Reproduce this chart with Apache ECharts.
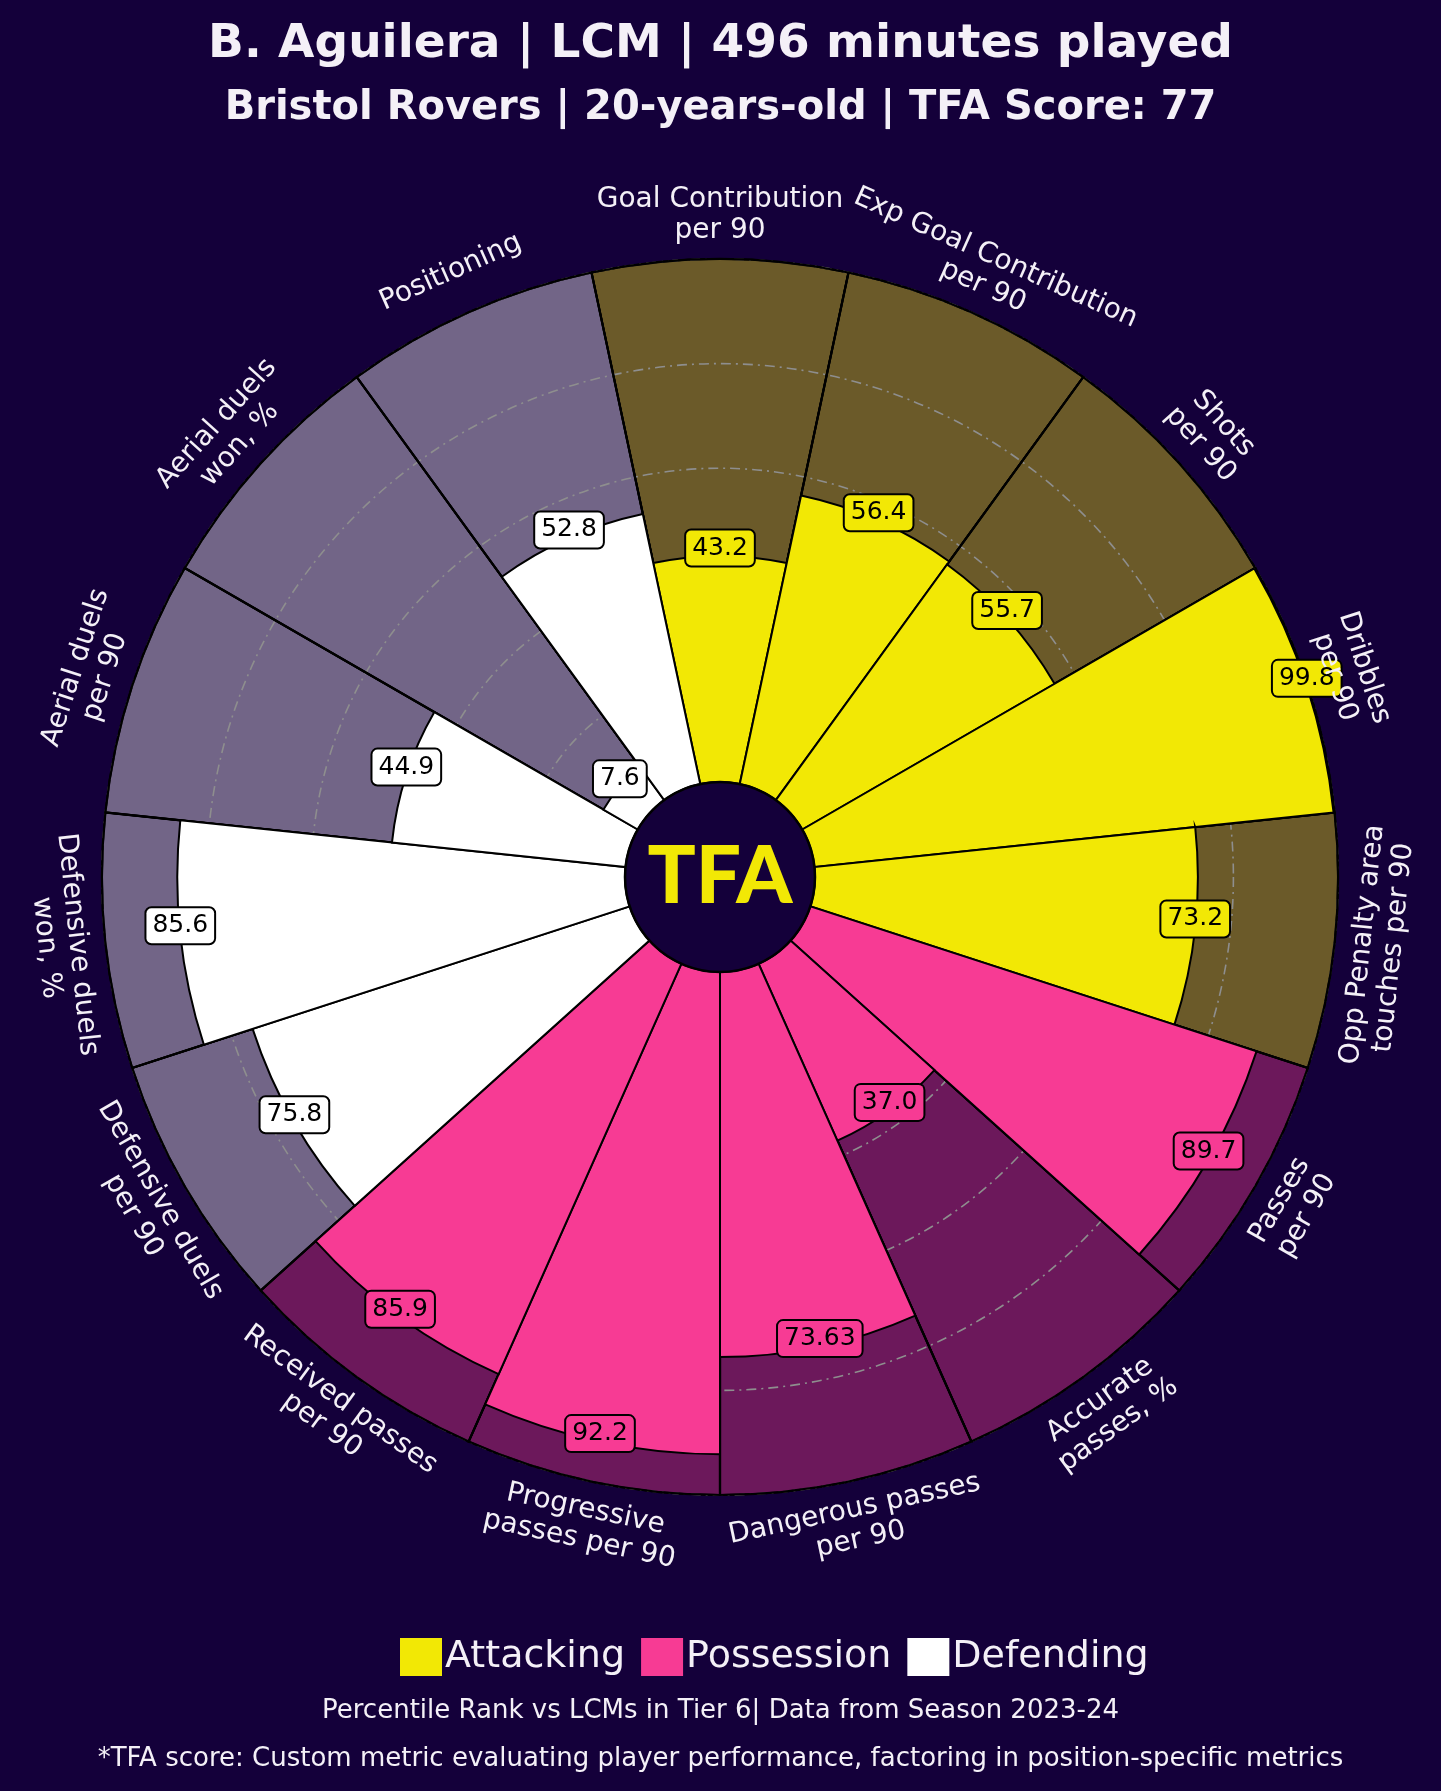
<!DOCTYPE html>
<html>
<head>
<meta charset="utf-8">
<script src="https://cdn.jsdelivr.net/npm/echarts@6/dist/echarts.min.js"></script>
<style>
html,body{margin:0;padding:0;background:#14003a;}
#chart{width:1441px;height:1791px;}
</style>
</head>
<body>
<div id="chart"></div>
<script>
const categories = [
  'Goal Contribution\nper 90',
  'Exp Goal Contribution\nper 90',
  'Shots\nper 90',
  'Dribbles\nper 90',
  'Opp Penalty area\ntouches per 90',
  'Passes\nper 90',
  'Accurate\npasses, %',
  'Dangerous passes\nper 90',
  'Progressive\npasses per 90',
  'Received passes\nper 90',
  'Defensive duels\nper 90',
  'Defensive duels\nwon, %',
  'Aerial duels\nper 90',
  'Aerial duels\nwon, %',
  'Positioning'
];
const values = [43.2, 56.4, 55.7, 99.8, 73.2, 89.7, 37.0, 73.63, 92.2, 85.9, 75.8, 85.6, 44.9, 7.6, 52.8];
const groups = ['Attacking','Attacking','Attacking','Attacking','Attacking',
  'Possession','Possession','Possession','Possession','Possession',
  'Defending','Defending','Defending','Defending','Defending'];
const groupNames = ['Attacking', 'Possession', 'Defending'];
const radiusTicks = [0, 20, 40, 60, 80, 100];

const valueColor = { Attacking: '#f2e805', Possession: '#f73b94', Defending: '#ffffff' };
const bgColor = { Attacking: '#6b5a29', Possession: '#6c185b', Defending: '#726587' };
const BG = '#14003a';
const TXT = '#f4f0f7';
const FONT = '"DejaVu Sans", "Open Sans", sans-serif';
const CENTER = [720, 877];
const R0 = 95, R1 = 618;
const LABEL_R = 108.4;

const fmt = v => Math.abs(v * 10 - Math.round(v * 10)) < 1e-9 ? v.toFixed(1) : String(v);

function labelRotate(i) {
  let rot = -i * 360 / categories.length;
  while (rot <= -180) rot += 360;
  while (rot > 180) rot -= 360;
  if (rot > 90) rot -= 180;
  if (rot < -90) rot += 180;
  return rot;
}

const bgSeries = {
  name: 'bg', type: 'bar', coordinateSystem: 'polar', z: 1,
  barCategoryGap: '0%', barGap: '-100%', silent: true,
  data: categories.map((c, i) => ({
    value: 100,
    itemStyle: { color: bgColor[groups[i]], borderColor: '#000', borderWidth: 1.8 }
  }))
};

const outlineSeries = {
  name: 'outline', type: 'bar', coordinateSystem: 'polar', z: 2.5,
  barCategoryGap: '0%', barGap: '-100%', silent: true,
  itemStyle: { color: 'rgba(0,0,0,0)', borderColor: '#000', borderWidth: 2.2 },
  data: categories.map(() => 100)
};

const valueSeries = groupNames.map(g => ({
  name: g, type: 'bar', coordinateSystem: 'polar', z: 3,
  barCategoryGap: '0%', barGap: '-100%', silent: true,
  itemStyle: { color: valueColor[g], borderColor: '#000', borderWidth: 2 },
  data: values.map((v, i) => groups[i] === g ? v : '-')
}));

const valueLabelSeries = {
  name: 'valueLabels', type: 'scatter', coordinateSystem: 'polar', z: 5, clip: false, silent: true,
  symbolSize: 1, itemStyle: { color: 'rgba(0,0,0,0)', opacity: 1 },
  data: values.map((v, i) => ({
    value: [v, i],
    label: {
      show: true, position: 'inside', offset: [0, -8], formatter: fmt(v), opacity: 1,
      color: '#000', fontSize: 25, fontFamily: FONT,
      backgroundColor: valueColor[groups[i]], borderColor: '#000', borderWidth: 2,
      borderRadius: 5, padding: [6, 6, 4, 6]
    }
  }))
};

const paramLabelSeries = {
  name: 'paramLabels', type: 'scatter', coordinateSystem: 'polar', z: 5, clip: false, silent: true,
  symbolSize: 1, itemStyle: { color: 'rgba(0,0,0,0)', opacity: 1 },
  data: categories.map((c, i) => ({
    value: [LABEL_R, i],
    label: {
      show: true, position: 'inside', formatter: c, rotate: labelRotate(i), opacity: 1,
      color: TXT, fontSize: 28, lineHeight: 31, fontFamily: FONT, align: 'center'
    }
  }))
};

const centerSeries = {
  name: 'center', type: 'pie', center: CENTER, radius: [0, R0], z: 6, silent: true,
  startAngle: 90,
  itemStyle: { color: BG, borderColor: '#000', borderWidth: 2.5 },
  label: { show: true, position: 'center', formatter: 'TFA', color: '#f2e805',
    fontSize: 80, fontWeight: 900, fontFamily: '"Lato", sans-serif' },
  labelLine: { show: false },
  data: [{ value: 1, name: 'TFA' }]
};

const option = {
  backgroundColor: BG,
  animation: false,
  title: [
    { text: 'B. Aguilera | LCM | 496 minutes played', left: 'center', top: 16,
      textStyle: { color: TXT, fontSize: 47, fontWeight: 'bold', fontFamily: FONT } },
    { text: 'Bristol Rovers | 20-years-old | TFA Score: 77', left: 'center', top: 84,
      textStyle: { color: TXT, fontSize: 40, fontWeight: 'bold', fontFamily: FONT } },
    { text: 'Percentile Rank vs LCMs in Tier 6| Data from Season 2023-24', left: 'center', top: 1693,
      textStyle: { color: TXT, fontSize: 26, fontWeight: 'normal', fontFamily: FONT } },
    { text: '*TFA score: Custom metric evaluating player performance, factoring in position-specific metrics', left: 'center', top: 1741,
      textStyle: { color: TXT, fontSize: 26, fontWeight: 'normal', fontFamily: FONT } }
  ],
  legend: {
    data: groupNames, left: 395, top: 1633, icon: 'rect',
    itemWidth: 42, itemHeight: 38, itemGap: 16,
    itemStyle: { borderWidth: 0 },
    textStyle: { color: TXT, fontSize: 38, fontFamily: FONT, padding: [0, 0, 0, -2] },
    selectedMode: false
  },
  polar: { center: CENTER, radius: [R0, R1] },
  angleAxis: {
    type: 'category', data: categories, startAngle: 90 + 180 / categories.length, clockwise: true,
    axisLine: { show: false }, axisTick: { show: false }, axisLabel: { show: false }, splitLine: { show: false }
  },
  radiusAxis: {
    type: 'value', min: radiusTicks[0], max: radiusTicks[radiusTicks.length - 1], interval: 20, z: 2,
    axisLine: { show: false }, axisTick: { show: false }, axisLabel: { show: false },
    splitLine: { show: true, showMinLine: false, showMaxLine: false,
      lineStyle: { color: '#8e8e8e', width: 1.6, type: [10, 5, 2, 5] } }
  },
  series: [bgSeries, outlineSeries, ...valueSeries, valueLabelSeries, paramLabelSeries, centerSeries]
};

const chart = echarts.init(document.getElementById('chart'), null, { renderer: 'canvas' });
chart.setOption(option);
</script>
</body>
</html>
